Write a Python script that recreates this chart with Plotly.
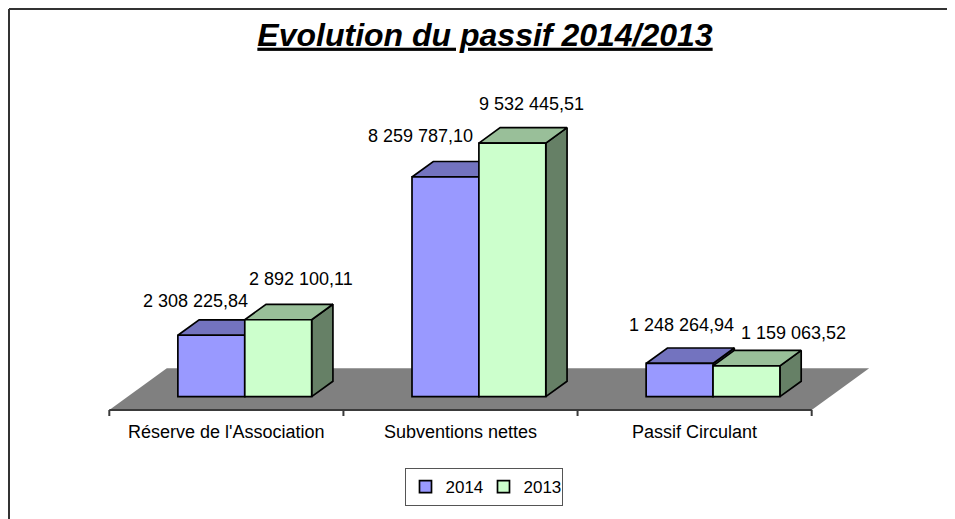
import plotly.graph_objects as go

# ---------------- data ----------------
categories = ["Réserve de l'Association", "Subventions nettes", "Passif Circulant"]
series_names = ["2014", "2013"]
values_2014 = [2308225.84, 8259787.10, 1248264.94]
values_2013 = [2892100.11, 9532445.51, 1159063.52]

# ---------------- style / geometry (page pixels) ----------------
W, H = 955, 519
OFF = 8                                     # page body margin offset
PL, PR, PT, PB = 60, 900, 60, 418          # plot area in page pixels
X_BOUND0 = 109.3                            # pixel of first category boundary
PX_CAT = 234.13                             # pixels per category
Y_ZERO = 410.0                              # pixel of value 0 at floor front
PX_M = 26.6                                 # pixels per million
DEPTH_PX = (57.5, 41.7)                     # floor depth offset (right, up)
T_FRONT, T_BACK = 0.32, 0.69                # bar depth position within floor
GAP = 1.5                                   # gap width (fraction of bar)
TICK_PX = 6

FRONT = ["#9999FF", "#CCFFCC"]
TOP = ["#7373BF", "#99BF99"]
SIDE = ["#4D4D80", "#668066"]
FLOOR = "#808080"
FONT = "Liberation Sans, Arial, sans-serif"

# label offsets (pixels) relative to the top-centre of each bar's front face
LABEL_SHIFTS = [
    [(-16, 34), (-25, 41), (2, 38)],
    [(23, 41), (19, 39), (47, 33)],
]

xr = [(PL - X_BOUND0) / PX_CAT - 0.5, (PR - X_BOUND0) / PX_CAT - 0.5]
yr = [(Y_ZERO - PB) / PX_M, (Y_ZERO - PT) / PX_M]
DX = DEPTH_PX[0] / PX_CAT
DY = DEPTH_PX[1] / PX_M
bw = 1.0 / (2 + GAP)
fx, fy = T_FRONT * DX, T_FRONT * DY
bx, by = T_BACK * DX, T_BACK * DY


def fr(v):
    s = f"{v:,.2f}"
    return s.replace(",", " ").replace(".", ",")


fig = go.Figure()
n = len(categories)

# floor
fig.add_trace(go.Scatter(
    x=[-0.5, n - 0.5, n - 0.5 + DX, -0.5 + DX, -0.5],
    y=[0, 0, DY, DY, 0],
    fill="toself", fillcolor=FLOOR, mode="lines",
    line=dict(width=0, color=FLOOR), showlegend=False, hoverinfo="skip"))

# axis line + tick marks
ax_x, ax_y = [-0.5, n - 0.5, None], [0, 0, None]
for b in range(n + 1):
    ax_x += [b - 0.5, b - 0.5, None]
    ax_y += [0, -TICK_PX / PX_M, None]
fig.add_trace(go.Scatter(x=ax_x, y=ax_y, mode="lines",
                         line=dict(color="#3a3a3a", width=2),
                         showlegend=False, hoverinfo="skip"))

series = [values_2014, values_2013]

# top and side faces (drawn in painter order)
for i in range(n):
    for s, vals in enumerate(series):
        h = vals[i] / 1e6
        x0 = i - bw + s * bw
        x1 = x0 + bw
        fig.add_trace(go.Scatter(
            x=[x1 + fx, x1 + bx, x1 + bx, x1 + fx, x1 + fx],
            y=[fy, by, h + by, h + fy, fy],
            fill="toself", fillcolor=SIDE[s], mode="lines",
            line=dict(color="black", width=1.7), showlegend=False, hoverinfo="skip"))
        fig.add_trace(go.Scatter(
            x=[x0 + fx, x1 + fx, x1 + bx, x0 + bx, x0 + fx],
            y=[h + fy, h + fy, h + by, h + by, h + fy],
            fill="toself", fillcolor=TOP[s], mode="lines",
            line=dict(color="black", width=1.7), showlegend=False, hoverinfo="skip"))

# front faces as bars on an overlaid subplot (so they paint above)
for s, vals in enumerate(series):
    xs = [i - bw / 2 + s * bw + fx for i in range(n)]
    fig.add_trace(go.Bar(
        x=xs, y=[v / 1e6 for v in vals], base=[fy] * n, width=bw,
        name=series_names[s], marker=dict(color=FRONT[s], line=dict(color="black", width=1.7)),
        xaxis="x2", yaxis="y2", hoverinfo="skip"))

annotations = []
for s, vals in enumerate(series):
    for i in range(n):
        dxs, dys = LABEL_SHIFTS[s][i]
        annotations.append(dict(
            x=i - bw / 2 + s * bw + fx, y=vals[i] / 1e6 + fy, xref="x", yref="y",
            text=fr(vals[i]), showarrow=False, xshift=dxs, yshift=dys,
            font=dict(family=FONT, size=18, color="black")))
for i, c in enumerate(categories):
    annotations.append(dict(
        x=i, y=0, xref="x", yref="y", text=c, showarrow=False, yshift=-21.5,
        font=dict(family=FONT, size=18, color="black")))

# figure-coordinate margins (page pixel minus body offset)
ml, mr, mt, mb = PL - OFF, W - (PR - OFF), PT - OFF, H - (PB - OFF)
pw, ph = PR - PL, PB - PT


def px2x(p):
    return (p - PL) / pw


def py2y(p):
    return (PB - p) / ph


shapes = [
    dict(type="line", xref="paper", yref="paper", x0=px2x(OFF + 1), x1=px2x(OFF + 1),
         y0=py2y(OFF + 1), y1=py2y(560), line=dict(color="#333333", width=2)),
    dict(type="line", xref="paper", yref="paper", x0=px2x(OFF + 1), x1=px2x(1000),
         y0=py2y(OFF + 1), y1=py2y(OFF + 1), line=dict(color="#333333", width=2)),
]

fig.update_layout(
    width=W, height=H,
    margin=dict(l=ml, r=mr, t=mt, b=mb),
    paper_bgcolor="white", plot_bgcolor="rgba(0,0,0,0)",
    barmode="overlay",
    title=dict(text="<b><i><u>Evolution du passif 2014/2013</u></i></b>",
               x=(485 - OFF) / W, xanchor="center", y=1 - (34.5 - OFF) / H, yanchor="middle",
               xref="container", yref="container",
               font=dict(family=FONT, size=32, color="black")),
    xaxis=dict(range=xr, visible=False, fixedrange=True),
    yaxis=dict(range=yr, visible=False, fixedrange=True),
    xaxis2=dict(range=xr, visible=False, overlaying="x", anchor="y2", fixedrange=True),
    yaxis2=dict(range=yr, visible=False, overlaying="y", anchor="x2", fixedrange=True),
    legend=dict(orientation="h", x=px2x(483.5), xanchor="center",
                y=py2y(487), yanchor="middle", entrywidth=33, entrywidthmode="pixels",
                bordercolor="#555555", borderwidth=1, bgcolor="white",
                font=dict(family=FONT, size=17, color="black")),
    annotations=annotations, shapes=shapes,
    showlegend=True,
)

fig.write_html("out.html")
